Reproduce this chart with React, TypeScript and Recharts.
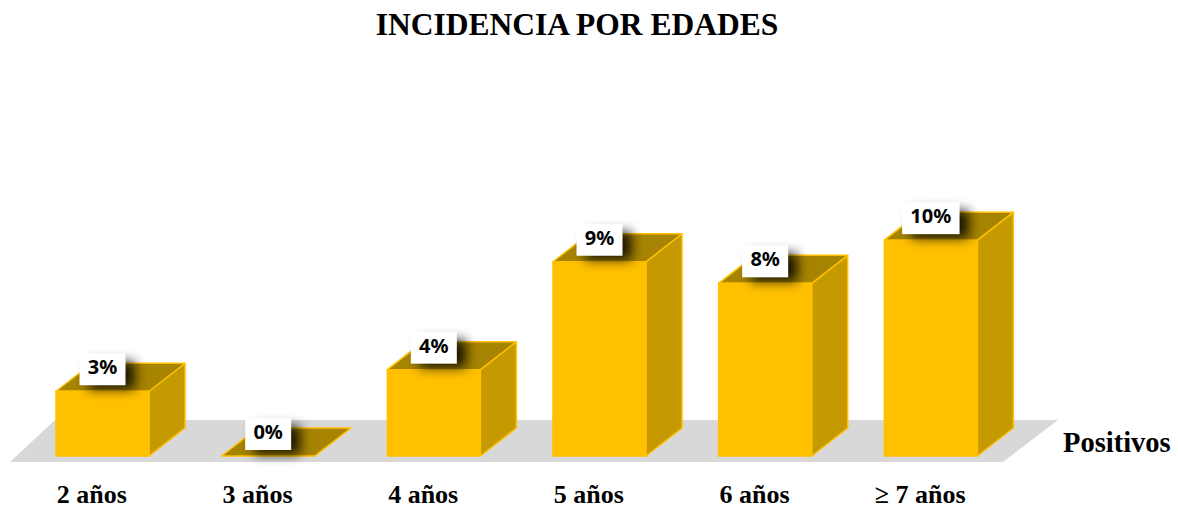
import { BarChart, Bar, XAxis, YAxis, LabelList } from "recharts";

const categories = ["2 años", "3 años", "4 años", "5 años", "6 años", "≥ 7 años"];
const positivos = [3, 0, 4, 9, 8, 10];
const valueLabels = ["3%", "0%", "4%", "9%", "8%", "10%"];

const data = categories.map((name, i) => ({
  name,
  Positivos: positivos[i],
  label: valueLabels[i],
}));

const W = 1178;
const H = 510;
const DX = 36;
const DY = -28;
const FRONT = "#FFC000";
const SIDE = "#C59A00";
const TOP = "#A68300";
const SERIF = "'Liberation Serif', 'Times New Roman', serif";

const Bar3D = (props: any) => {
  const { x, y, width, height } = props;
  const h = Math.max(0, height || 0);
  return (
    <g stroke={FRONT} strokeWidth={1.5} strokeLinejoin="round">
      <polygon
        points={`${x + width},${y} ${x + width + DX},${y + DY} ${x + width + DX},${y + h + DY} ${x + width},${y + h}`}
        fill={SIDE}
      />
      <polygon
        points={`${x},${y} ${x + DX},${y + DY} ${x + width + DX},${y + DY} ${x + width},${y}`}
        fill={TOP}
      />
      {h > 0 && <rect x={x} y={y} width={width} height={h} fill={FRONT} />}
    </g>
  );
};

const ValueTag = (props: any) => {
  const { x, y, width, value } = props;
  const s = String(value);
  const textW = (s.length - 1) * 11.5 + 17.5;
  const bw = textW + 17;
  const cx = x + width / 2;
  const bottom = y - 6;
  const bx = cx - bw / 2;
  return (
    <g>
      <rect x={bx + 9} y={bottom - 24} width={bw} height={28} fill="#000" opacity={0.85} filter="url(#tagShadow)" />
      <rect x={bx} y={bottom - 32} width={bw} height={32} fill="#fff" />
      <text
        x={cx}
        y={bottom - 11}
        textAnchor="middle"
        fontFamily="'Noto Sans', sans-serif"
        fontWeight={700}
        fontSize={20}
        fill="#000"
      >
        {s}
      </text>
    </g>
  );
};

const Tick = (props: any) => {
  const { x, payload } = props;
  return (
    <text x={x - 11} y={503} textAnchor="middle" fontFamily={SERIF} fontWeight={700} fontSize={26} fill="#000">
      {payload.value}
    </text>
  );
};

export default function App() {
  return (
    <div style={{ position: "absolute", left: 0, top: 0, width: W, height: H, background: "#fff" }}>
      <svg width={W} height={H} style={{ position: "absolute", left: 0, top: 0 }}>
        <text x={577} y={35} textAnchor="middle" fontFamily={SERIF} fontWeight={700} fontSize={31.5} fill="#000">
          INCIDENCIA POR EDADES
        </text>
        <polygon points="10,462 1003,462 1058,420 55,420" fill="#D9D8D9" />
        <text x={1063} y={452} fontFamily={SERIF} fontWeight={700} fontSize={28.5} fill="#000">
          Positivos
        </text>
      </svg>
      <div style={{ position: "absolute", left: 0, top: 0 }}>
        <BarChart width={W} height={H} data={data} margin={{ top: 197, right: 164, left: 20, bottom: 0 }}>
          <defs>
            <filter id="tagShadow" x="-50%" y="-50%" width="200%" height="200%">
              <feGaussianBlur stdDeviation={6} />
            </filter>
          </defs>
          <XAxis dataKey="name" height={54} axisLine={false} tickLine={false} tick={<Tick />} interval={0} />
          <YAxis hide domain={[0, 12]} />
          <Bar dataKey="Positivos" barSize={93} shape={<Bar3D />} isAnimationActive={false}>
            <LabelList dataKey="label" content={<ValueTag />} />
          </Bar>
        </BarChart>
      </div>
    </div>
  );
}
